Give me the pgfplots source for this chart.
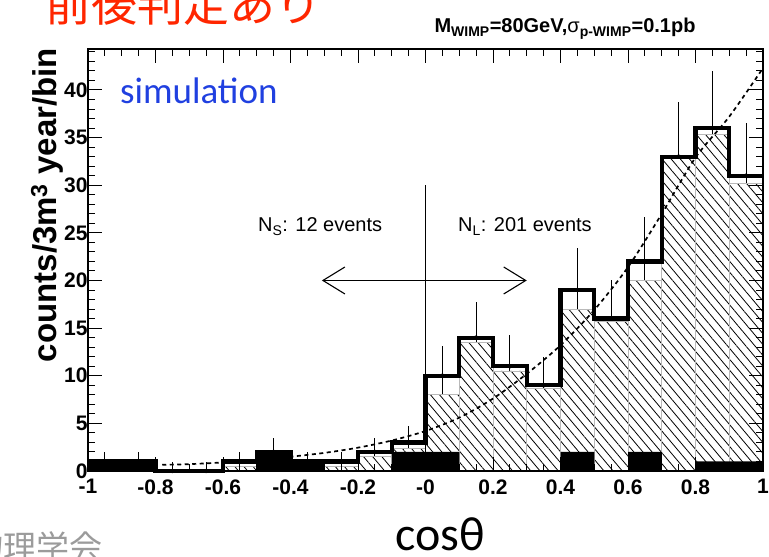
\documentclass[border=0pt]{standalone}
\usepackage{fontspec}
\setmainfont{Liberation Sans}
\newfontfamily\calibri{Carlito}
\newfontfamily\cjk{Noto Sans CJK JP}
\usepackage{pgfplots}
\pgfplotsset{compat=1.18}
\usetikzlibrary{patterns.meta,arrows.meta}
\definecolor{titlered}{RGB}{255,38,0}
\definecolor{simblue}{RGB}{32,64,224}
\definecolor{softgray}{RGB}{155,155,155}
\begin{document}
\begin{tikzpicture}
\begin{axis}[
  at={(88bp,86bp)}, anchor=south west,
  scale only axis, width=675bp, height=422bp,
  xmin=-1, xmax=1, ymin=0, ymax=44.3,
  clip=false, axis on top,
  xtick={-1,-0.8,-0.6,-0.4,-0.2,0,0.2,0.4,0.6,0.8,1},
  xticklabels={-1,-0.8,-0.6,-0.4,-0.2,-0,0.2,0.4,0.6,0.8,1},
  ytick={0,5,10,15,20,25,30,35,40},
  yticklabels={0,5,10,15,20,25,30,35,40},
  minor xtick={-0.95,-0.9,-0.85,-0.75,-0.7,-0.65,-0.55,-0.5,-0.45,-0.35,-0.3,-0.25,-0.15,-0.1,-0.05,0.05,0.1,0.15,0.25,0.3,0.35,0.45,0.5,0.55,0.65,0.7,0.75,0.85,0.9,0.95},
  minor ytick={1,2,3,4,6,7,8,9,11,12,13,14,16,17,18,19,21,22,23,24,26,27,28,29,31,32,33,34,36,37,38,39,41,42,43,44},
  tick align=inside,
  major tick length=14bp, minor tick length=7bp,
  every tick/.style={black, line width=1bp},
  axis line style={line width=1.4bp},
  ticklabel style={font=\bfseries\fontsize{21bp}{23bp}\selectfont},
  xticklabel style={yshift=-5bp},
  yticklabel style={xshift=3bp},
]
% error bars (Poisson)
\addplot[black, only marks, mark=none, error bars/.cd, y dir=both, y explicit, error mark=none,
  error bar style={line width=1.2bp}] coordinates {
  (-0.95,1) +- (0,1)
  (-0.85,1) +- (0,1)
  (-0.55,1) +- (0,1)
  (-0.45,2) +- (0,1.414)
  (-0.35,1) +- (0,1)
  (-0.25,1) +- (0,1)
  (-0.15,2) +- (0,1.414)
  (-0.05,3) +- (0,1.732)
  (0.05,10) +- (0,3.162)
  (0.15,14) +- (0,3.742)
  (0.25,11) +- (0,3.317)
  (0.35,9) +- (0,3)
  (0.45,19) +- (0,4.359)
  (0.55,16) +- (0,4)
  (0.65,22) +- (0,4.690)
  (0.75,33) +- (0,5.745)
  (0.85,36) +- (0,6)
  (0.95,31) +- (0,5.568)
};
\addplot[black, only marks, mark=none, error bars/.cd, y dir=plus, y explicit, error mark=none,
  error bar style={line width=1.2bp}] coordinates {
  (-0.75,0) += (0,0.9)
  (-0.65,0) += (0,0.9)
};
% hatched expectation
\addplot[ybar interval, draw=gray!55, line width=0.8bp, preaction={fill=white},
  pattern={Lines[angle=-50,distance=7bp,line width=0.8bp]}] coordinates {
  (-1.0,0.5) (-0.9,0.5) (-0.8,0) (-0.7,0) (-0.6,0.5) (-0.5,0.5) (-0.4,0.5) (-0.3,0.5)
  (-0.2,1.5) (-0.1,2.4) (0.0,8) (0.1,13.5) (0.2,10.5) (0.3,8.7) (0.4,17) (0.5,15.7)
  (0.6,20) (0.7,32.8) (0.8,35.3) (0.9,30.2) (1.0,30.2)
};
% black filled histogram
\addplot[ybar interval, fill=black, draw=none] coordinates {
  (-1.0,1) (-0.9,1) (-0.8,0) (-0.7,0) (-0.6,0) (-0.5,2) (-0.4,1) (-0.3,0)
  (-0.2,0) (-0.1,2) (0.0,2) (0.1,0) (0.2,0) (0.3,0) (0.4,2) (0.5,0)
  (0.6,2) (0.7,0) (0.8,1) (0.9,1) (1.0,1)
};
% thick data histogram
\addplot[const plot, black, line width=4.2bp, line join=miter] coordinates {
  (-1.0,1) (-0.9,1) (-0.8,0) (-0.7,0) (-0.6,1) (-0.5,2) (-0.4,1) (-0.3,1)
  (-0.2,2) (-0.1,3) (0.0,10) (0.1,14) (0.2,11) (0.3,9) (0.4,19) (0.5,16)
  (0.6,22) (0.7,33) (0.8,36) (0.9,31) (1.0,31)
};
% dashed fit curve
\addplot[smooth, black, dash pattern=on 4bp off 3.5bp, line width=1.7bp] coordinates {
  (-0.78,0.65) (-0.7,0.72) (-0.6,0.9) (-0.5,1.15) (-0.4,1.5) (-0.3,1.9) (-0.2,2.45)
  (-0.1,3.2) (0,4.2) (0.1,5.6) (0.2,7.6) (0.3,10.2) (0.4,13.2) (0.5,16.9) (0.6,21.4)
  (0.7,27.0) (0.8,32.9) (0.9,37.2) (1.0,42.3)
};
\draw[line width=1.1bp] (axis cs:0,0) -- (axis cs:0,30);
\draw[line width=1.1bp, {Straight Barb[length=22bp,width=27bp]}-{Straight Barb[length=22bp,width=27bp]}]
  (axis cs:-0.307,20) -- (axis cs:0.30,20);
\end{axis}
\node[anchor=base west, inner sep=0, font=\fontsize{20bp}{22bp}\selectfont] at (258bp,325bp) {N\textsubscript{S}: 12 events};
\node[anchor=base west, inner sep=0, font=\fontsize{20bp}{22bp}\selectfont] at (458bp,325bp) {N\textsubscript{L}: 201 events};
\node[anchor=base west, inner sep=0, text=simblue, font=\calibri\fontsize{37bp}{40bp}\selectfont] at (120bp,453bp) {simulation};
\node[anchor=base, inner sep=0, font=\bfseries\fontsize{20bp}{22bp}\selectfont] at (565bp,524bp) {M\textsubscript{WIMP}=80GeV,{\mdseries σ}\textsubscript{p-WIMP}=0.1pb};
\node[anchor=base west, inner sep=0, text=titlered, font=\cjk\fontsize{46bp}{50bp}\selectfont] at (45bp,535bp) {前後判定あり};
\node[anchor=base east, inner sep=0, text=softgray, font=\cjk\fontsize{33bp}{36bp}\selectfont] at (103bp,-2bp) {日本物理学会};
\node[anchor=base, inner sep=0, font=\calibri\fontsize{48bp}{50bp}\selectfont] at (440bp,7bp) {cosθ};
\node[rotate=90, anchor=center, inner sep=0, font=\bfseries\fontsize{33bp}{36bp}\selectfont] at (47bp,352bp) {counts/3m\textsuperscript{3} year/bin};
\pgfresetboundingbox
\path[use as bounding box] (0,0) rectangle (769bp,557bp);
\end{tikzpicture}
\end{document}
